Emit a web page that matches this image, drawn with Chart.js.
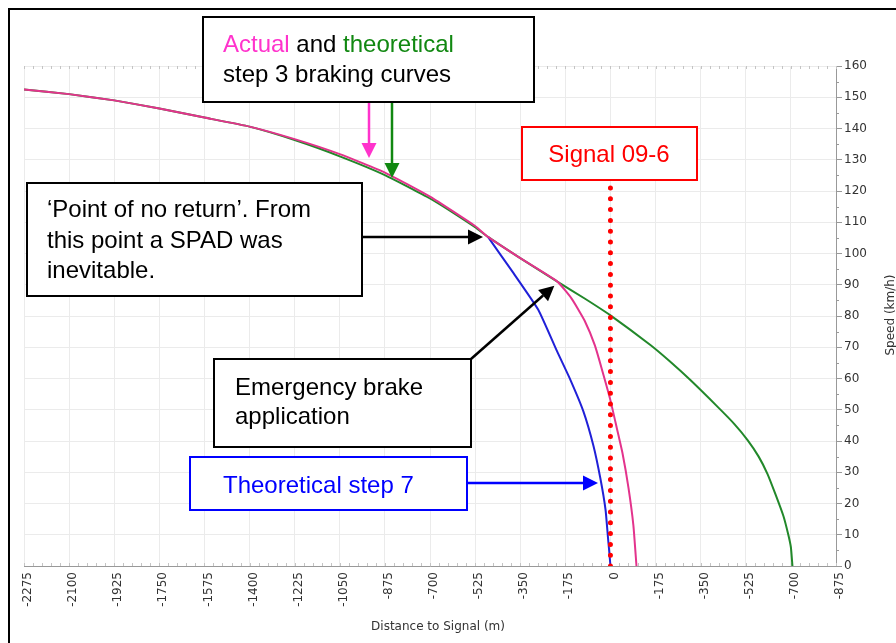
<!DOCTYPE html>
<html>
<head>
<meta charset="utf-8">
<script src="https://cdn.jsdelivr.net/npm/chart.js@4.4.0/dist/chart.umd.min.js"></script>
<style>
body { margin:0; background:#fff; }
#wrap { width:896px; height:643px; position:relative; }
</style>
</head>
<body>
<div id="wrap"><canvas id="brakeChart"></canvas></div>
<script>
// distance to signal (m) and speed (km/h)
var distActual  = [-2275, -2100, -1925, -1750, -1575, -1400, -1225, -1050, -875, -700, -525, -475, -350, -206, -150, -100, -60, -30, 0, 25, 47, 70, 89, 101];
var speedActual = [152.5, 151, 149, 146.4, 143.5, 140.6, 136.6, 131.8, 125.9, 118.2, 108.8, 105.3, 98.5, 91, 85.5, 78.5, 70.5, 62, 53, 44, 36, 25, 13, 0];

var distStep3   = [-2275, -2100, -1925, -1750, -1575, -1400, -1225, -1050, -875, -700, -525, -475, -350, -206, -100, 0, 155, 230, 310, 415, 480, 532, 575, 609, 640, 671, 690, 700, 706];
var speedStep3  = [152.5, 151, 149, 146.4, 143.5, 140.6, 136.3, 131.1, 125.1, 117.6, 108.4, 105.3, 98.5, 91, 85.6, 80.2, 70.7, 65.5, 59.5, 51, 45.5, 40.3, 35, 29.5, 23, 16, 10, 6, 0];

var distStep7   = [-475, -376, -280, -206, -155, -105, -66, -39, -19, -10, -4, 0];
var speedStep7  = [105.3, 93.7, 82, 68.5, 59.5, 49.5, 38.5, 28, 18, 9.5, 4, 0];

var distSignal  = [0, 0];
var speedSignal = [0, 123];

var xTicks = { min: -2275, max: 875, step: 175 };
var yTicks = { min: 0, max: 160, step: 10 };

function pts(xs, ys) {
  return xs.map(function (x, i) { return { x: x, y: ys[i] }; });
}

function drawArrow(ctx, x1, y1, x2, y2, color) {
  var a = Math.atan2(y2 - y1, x2 - x1), len = 15, half = 7.5;
  var bx = x2 - Math.cos(a) * len, by = y2 - Math.sin(a) * len;
  ctx.strokeStyle = color; ctx.fillStyle = color; ctx.lineWidth = 2.5;
  ctx.beginPath(); ctx.moveTo(x1, y1); ctx.lineTo(bx, by); ctx.stroke();
  ctx.beginPath();
  ctx.moveTo(x2, y2);
  ctx.lineTo(bx - Math.sin(a) * half, by + Math.cos(a) * half);
  ctx.lineTo(bx + Math.sin(a) * half, by - Math.cos(a) * half);
  ctx.closePath(); ctx.fill();
}

function drawBox(ctx, x, y, w, h, color) {
  ctx.fillStyle = '#fff';
  ctx.fillRect(x, y, w, h);
  ctx.strokeStyle = color; ctx.lineWidth = 2;
  ctx.strokeRect(x, y, w, h);
}

var extras = {
  id: 'extras',
  beforeDraw: function (chart) {
    var ctx = chart.ctx;
    ctx.save();
    ctx.fillStyle = '#fff';
    ctx.fillRect(0, 0, chart.width, chart.height);
    ctx.restore();
  },
  beforeDatasetsDraw: function (chart) {
    var ctx = chart.ctx, xs = chart.scales.x, ys = chart.scales.y, a = chart.chartArea;
    ctx.save();
    ctx.strokeStyle = '#c4c4c4'; ctx.lineWidth = 1;
    for (var v = xTicks.min; v <= xTicks.max; v += 35) {
      var px = Math.round(xs.getPixelForValue(v)) + 0.5;
      ctx.beginPath();
      ctx.moveTo(px, a.bottom); ctx.lineTo(px, a.bottom - 3);
      ctx.moveTo(px, a.top); ctx.lineTo(px, a.top + 3);
      ctx.stroke();
    }
    ctx.strokeStyle = '#999';
    for (var s = 5; s < yTicks.max; s += 10) {
      var py = Math.round(ys.getPixelForValue(s)) + 0.5;
      ctx.beginPath(); ctx.moveTo(a.right, py); ctx.lineTo(a.right + 3, py); ctx.stroke();
    }
    ctx.restore();
  },
  afterDraw: function (chart) {
    var ctx = chart.ctx, xs = chart.scales.x, ys = chart.scales.y;
    ctx.save();
    // outer frame
    ctx.strokeStyle = '#000'; ctx.lineWidth = 2;
    ctx.strokeRect(9, 9, 900, 660);

    // axis titles
    ctx.fillStyle = '#333';
    ctx.font = '12px "DejaVu Sans"';
    ctx.textAlign = 'center'; ctx.textBaseline = 'middle';
    ctx.fillText('Distance to Signal (m)', 438, 627);
    ctx.save();
    ctx.translate(891, 315); ctx.rotate(-Math.PI / 2);
    ctx.fillText('Speed (km/h)', 0, 0);
    ctx.restore();

    ctx.textAlign = 'left'; ctx.textBaseline = 'alphabetic';
    ctx.font = '24px "Liberation Sans", Arial, sans-serif';

    // note on the step 3 curves, with two arrows
    drawArrow(ctx, 369, 102, 369, 158, '#ff33cc');
    drawArrow(ctx, 392, 102, 392, 178, '#118811');
    drawBox(ctx, 203, 17, 331, 85, '#000');
    var x0 = 223;
    ctx.fillStyle = '#ff33cc'; ctx.fillText('Actual', x0, 52);
    x0 += ctx.measureText('Actual').width;
    ctx.fillStyle = '#000'; ctx.fillText(' and ', x0, 52);
    x0 += ctx.measureText(' and ').width;
    ctx.fillStyle = '#118811'; ctx.fillText('theoretical', x0, 52);
    ctx.fillStyle = '#000'; ctx.fillText('step 3 braking curves', 223, 82);

    // point of no return = start of step 7 curve
    var nrX = xs.getPixelForValue(distStep7[0]) - 5, nrY = ys.getPixelForValue(speedStep7[0]);
    drawBox(ctx, 27, 183, 335, 113, '#000');
    drawArrow(ctx, 362, nrY, nrX, nrY, '#000');
    ctx.fillStyle = '#000';
    ctx.fillText('\u2018Point of no return\u2019. From', 47, 217);
    ctx.fillText('this point a SPAD was', 47, 248);
    ctx.fillText('inevitable.', 47, 278);

    // emergency brake point = kink of actual curve
    var ebX = xs.getPixelForValue(distActual[13]) - 3, ebY = ys.getPixelForValue(speedActual[13]) + 4;
    drawArrow(ctx, 471, 359, ebX, ebY, '#000');
    drawBox(ctx, 214, 359, 257, 88, '#000');
    ctx.fillStyle = '#000';
    ctx.fillText('Emergency brake', 235, 395);
    ctx.fillText('application', 235, 424);

    // step 7 label
    var s7Y = 483;
    drawArrow(ctx, 467, s7Y, 598, s7Y, '#0000ff');
    drawBox(ctx, 190, 457, 277, 53, '#0000ff');
    ctx.fillStyle = '#0000ff';
    ctx.fillText('Theoretical step 7', 223, 493);

    // signal label
    drawBox(ctx, 522, 127, 175, 53, '#ff0000');
    ctx.fillStyle = '#ff0000';
    ctx.textAlign = 'center';
    ctx.fillText('Signal 09-6', 609, 162);
    ctx.restore();
  }
};

var tickFont = { family: 'DejaVu Sans', size: 12 };

new Chart(document.getElementById('brakeChart'), {
  type: 'line',
  data: {
    datasets: [
      {
        label: 'Signal 09-6',
        data: pts(distSignal, speedSignal),
        borderColor: '#ff0000',
        borderWidth: 5,
        borderDash: [0, 10.8],
        borderCapStyle: 'round',
        pointRadius: 0
      },
      {
        label: 'Actual',
        data: pts(distActual, speedActual),
        borderColor: '#e3338c',
        borderWidth: 2,
        pointRadius: 0,
        tension: 0.15
      },
      {
        label: 'Theoretical step 7',
        data: pts(distStep7, speedStep7),
        borderColor: '#2020d8',
        borderWidth: 2,
        pointRadius: 0,
        tension: 0.15
      },
      {
        label: 'Theoretical step 3',
        data: pts(distStep3, speedStep3),
        borderColor: '#22882a',
        borderWidth: 2,
        pointRadius: 0,
        tension: 0.15
      }
    ]
  },
  options: {
    responsive: true,
    maintainAspectRatio: false,
    animation: false,
    layout: { padding: { top: 66, left: 24, right: 0, bottom: 0 } },
    plugins: { legend: { display: false }, tooltip: { enabled: false } },
    scales: {
      x: {
        type: 'linear',
        position: 'bottom',
        min: xTicks.min,
        max: xTicks.max,
        afterFit: function (s) { s.height = 77; },
        ticks: {
          stepSize: xTicks.step,
          autoSkip: false,
          minRotation: 90,
          maxRotation: 90,
          padding: 6,
          labelOffset: 4,
          color: '#333',
          font: tickFont,
          callback: function (v) { return v > 0 ? '-' + v : String(v); }
        },
        grid: { color: '#ebebeb', drawTicks: false },
        border: { color: '#999' }
      },
      y: {
        position: 'right',
        min: yTicks.min,
        max: yTicks.max,
        afterFit: function (s) { s.width = 60; },
        ticks: { stepSize: yTicks.step, padding: 2, color: '#333', font: tickFont },
        grid: { color: '#ebebeb', tickLength: 6, tickColor: '#999' },
        border: { color: '#999' }
      }
    }
  },
  plugins: [extras]
});
</script>
</body>
</html>
